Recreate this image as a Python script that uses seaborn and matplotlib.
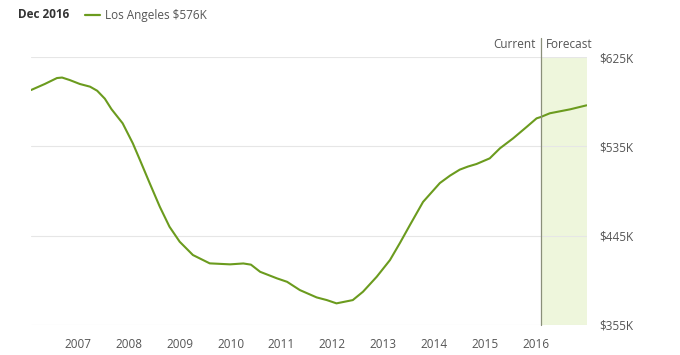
import pandas as pd
import seaborn as sns
import matplotlib.pyplot as plt

# Los Angeles home value index
years = [2006.08, 2006.35, 2006.59, 2006.69, 2006.84, 2007.04, 2007.24, 2007.38,
         2007.53, 2007.66, 2007.88, 2008.08, 2008.22, 2008.41, 2008.61, 2008.80,
         2009.00, 2009.26, 2009.59, 2009.99, 2010.25, 2010.40, 2010.58, 2010.91,
         2011.11, 2011.36, 2011.69, 2011.89, 2012.08, 2012.40, 2012.60, 2012.87,
         2013.13, 2013.33, 2013.52, 2013.78, 2014.11, 2014.31, 2014.50, 2014.66,
         2014.83, 2015.09, 2015.29, 2015.55, 2015.82, 2016.01, 2016.09, 2016.27,
         2016.67, 2016.99]
values = [591.7, 597.8, 603.8, 604.3, 601.8, 597.8, 595.1, 591.0,
          583.0, 572.5, 558.2, 538.0, 521.2, 498.0, 474.1, 454.0,
          438.9, 425.5, 417.1, 416.1, 417.0, 415.8, 408.6, 402.0,
          398.5, 390.2, 382.8, 380.1, 376.8, 380.1, 388.5, 403.6,
          420.4, 438.0, 455.5, 479.0, 498.0, 505.5, 511.5, 514.6,
          517.2, 522.9, 533.0, 543.1, 554.8, 563.2, 564.5, 568.3,
          572.3, 576.3]
year_ticks = [2007, 2008, 2009, 2010, 2011, 2012, 2013, 2014, 2015, 2016]
value_ticks = [355, 445, 535, 625]
value_labels = ['$355K', '$445K', '$535K', '$625K']
current = 2016.09

green = '#6b9b1e'
grey = '#555555'

sns.set_style('white')
plt.rcParams['font.family'] = ['Open Sans', 'DejaVu Sans']

df = pd.DataFrame({'year': years, 'value': values})

fig = plt.figure(figsize=(6.8, 3.55), dpi=100)
ax = fig.add_axes([31 / 680, 1 - 325 / 355, 556 / 680, 268 / 355])

# forecast band
ax.axvspan(current, 2017.0, color='#eef6dc', zorder=0, lw=0)

sns.lineplot(data=df, x='year', y='value', color=green, linewidth=1.5, ax=ax, zorder=3)

ax.set_xlim(2006.08, 2017.0)
ax.set_ylim(355, 625)

for v in value_ticks:
    ax.axhline(v, color='#e6e6e6', lw=0.8, zorder=1)

for s in ax.spines.values():
    s.set_visible(False)

ax.set_xticks(year_ticks)
ax.set_xticklabels([str(y) for y in year_ticks], fontsize=8.5, color=grey)
ax.tick_params(axis='x', length=0, pad=9)
ax.yaxis.tick_right()
ax.set_yticks(value_ticks)
ax.set_yticklabels(value_labels, fontsize=8.5, color=grey)
ax.tick_params(axis='y', length=0, pad=9)
ax.set_xlabel('')
ax.set_ylabel('')

# current / forecast marker
ax.plot([current, current], [355, 644], color='#8a8f7a', lw=0.9, clip_on=False, zorder=4)
ax.text(current - 0.1, 638, 'Current', ha='right', va='center', fontsize=8.5, color=grey)
ax.text(current + 0.1, 638, 'Forecast', ha='left', va='center', fontsize=8.5, color=grey)

# header legend
fig.text(18 / 680, 1 - 15 / 355, 'Dec 2016', ha='left', va='center', fontsize=8.5,
         fontweight='bold', color='#333333')
fig.add_artist(plt.Line2D([85 / 680, 100 / 680], [1 - 15 / 355, 1 - 15 / 355],
                          color=green, lw=1.6))
fig.text(105 / 680, 1 - 15 / 355, 'Los Angeles $576K', ha='left', va='center',
         fontsize=8.5, color=grey)

plt.savefig('out.png', dpi=100)
